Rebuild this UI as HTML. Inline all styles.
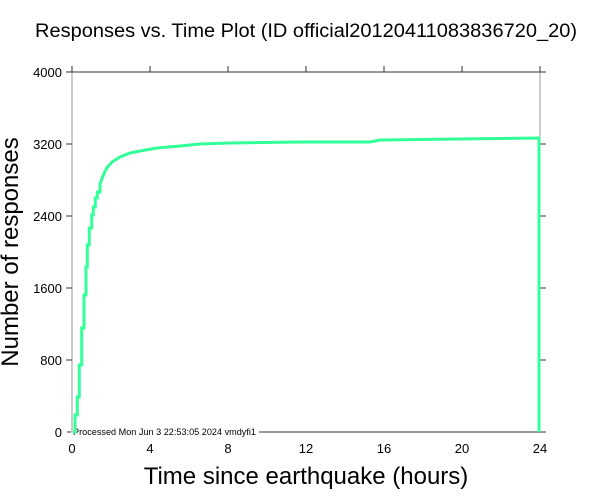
<!DOCTYPE html>
<html><head><meta charset="utf-8"><style>
body{margin:0;background:#fff}
svg{display:block;font-family:"Liberation Sans",sans-serif}
</style></head><body>
<svg width="612" height="504" viewBox="0 0 612 504">
<rect width="612" height="504" fill="#fff"/>
<text x="306" y="37" text-anchor="middle" font-size="19" textLength="542" lengthAdjust="spacingAndGlyphs">Responses vs. Time Plot (ID official20120411083836720_20)</text>
<line x1="72" y1="72" x2="72" y2="432" stroke="#999" stroke-width="1"/>
<line x1="540" y1="72" x2="540" y2="432" stroke="#999" stroke-width="1"/>
<line x1="72" y1="72" x2="540" y2="72" stroke="#333" stroke-width="1"/>
<line x1="259" y1="432" x2="540" y2="432" stroke="#333" stroke-width="1"/>
<line x1="67" y1="432" x2="71" y2="432" stroke="#333"/>
<g stroke="#333">
<line x1="66" y1="72" x2="72" y2="72"/><line x1="66" y1="144" x2="72" y2="144"/><line x1="66" y1="216" x2="72" y2="216"/><line x1="66" y1="288" x2="72" y2="288"/><line x1="66" y1="360" x2="72" y2="360"/>
<line x1="540" y1="72" x2="546" y2="72"/><line x1="540" y1="144" x2="546" y2="144"/><line x1="540" y1="216" x2="546" y2="216"/><line x1="540" y1="288" x2="546" y2="288"/><line x1="540" y1="360" x2="546" y2="360"/><line x1="540" y1="432" x2="546" y2="432"/>
<line x1="72" y1="66" x2="72" y2="72"/><line x1="150" y1="66" x2="150" y2="72"/><line x1="228" y1="66" x2="228" y2="72"/><line x1="306" y1="66" x2="306" y2="72"/><line x1="384" y1="66" x2="384" y2="72"/><line x1="462" y1="66" x2="462" y2="72"/><line x1="540" y1="66" x2="540" y2="72"/>
</g>
<g font-size="13" text-anchor="end">
<text x="62" y="77">4000</text><text x="62" y="149">3200</text><text x="62" y="221">2400</text><text x="62" y="293">1600</text><text x="62" y="365">800</text><text x="62" y="437">0</text>
</g>
<g font-size="13" text-anchor="middle">
<text x="72" y="453">0</text><text x="150" y="453">4</text><text x="228" y="453">8</text><text x="306" y="453">12</text><text x="384" y="453">16</text><text x="462" y="453">20</text><text x="540" y="453">24</text>
</g>
<text x="73" y="435" font-size="9.5" textLength="183" lengthAdjust="spacingAndGlyphs">Processed Mon Jun  3 22:53:05 2024 vmdyfi1</text>
<text x="306" y="484" text-anchor="middle" font-size="24">Time since earthquake (hours)</text>
<text transform="translate(18,252) rotate(-90)" text-anchor="middle" font-size="24">Number of responses</text>
<polyline fill="none" stroke="#33ff99" stroke-width="3" points="73,432 75,432 75,415 77.3,415 77.3,397 79.3,397 79.3,365 81.7,365 81.7,328 84,328 84,295 86,295 86,267 87.3,267 87.3,245 89.3,245 89.3,228 91.7,228 91.7,215 93.3,215 93.3,207 95.3,207 95.3,198 97.3,198 97.3,192 100,192 100,184 103,176 106.7,168 112,162 120,157 130,153 140,151 157,148 180,146 200,144 230,143 300,142 370,142 380,140 539,138 539,432"/>
</svg>
</body></html>
